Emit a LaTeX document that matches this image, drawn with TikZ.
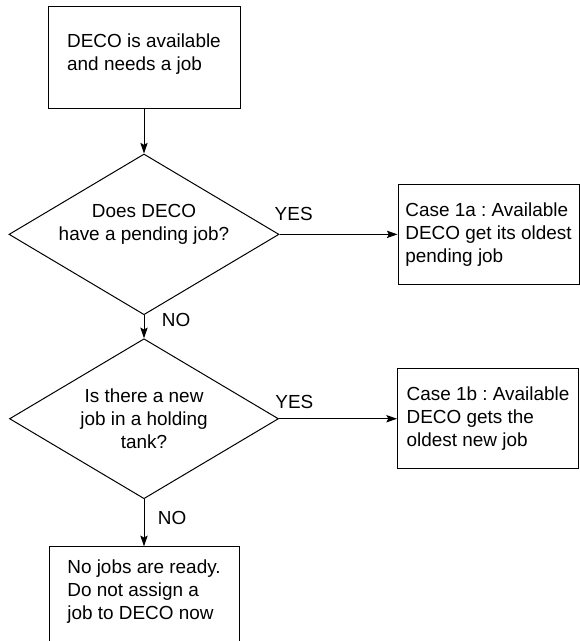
\documentclass[tikz,border=0pt]{standalone}
\usepackage{fontspec}
\setmainfont{Liberation Sans}
\frenchspacing
\usetikzlibrary{positioning}
\usetikzlibrary{shapes.geometric}
\usetikzlibrary{arrows.meta}

\begin{document}
\begin{tikzpicture}[
		font=\fontsize{14.2}{17.25}\selectfont,
		line width=0.75pt,
		box/.style={draw, rectangle, align=left, inner sep=0pt},
		decision/.style={draw, diamond, align=center, inner sep=0pt, shape aspect=1.68, minimum width=201.75pt, minimum height=120pt},
		flow/.style={-{Stealth[length=8pt, width=5.5pt, inset=1.5pt]}},
		answer/.style={inner sep=0pt}
	]
			\useasboundingbox (0,0) rectangle (434.25pt,-480.75pt);

			\node[box, minimum width=144pt, minimum height=76.5pt, text depth=8.5pt] (start) at (108pt,-43.5pt) {DECO is available\\and needs a job};
			\node[decision, below=33pt of start] (pending) {Does DECO\\have a pending job?\\\mbox{}};
			\node[decision, below=17.25pt of pending] (holding) {Is there a new\\job in a holding\\tank?};
			\node[box, minimum width=135.75pt, minimum height=75pt, right=88.5pt of pending] (case1a) {Case 1a : Available\\DECO get its oldest\\pending job};
			\node[box, minimum width=135.75pt, minimum height=75pt, right=88.5pt of holding] (case1b) {Case 1b : Available\\DECO gets the\\oldest new job};
			\node[box, minimum width=142.5pt, minimum height=76.5pt, text depth=12pt, below=35.25pt of holding] (idle) {No jobs are ready.\\Do not assign a\\job to DECO now};

			\draw[flow] (start) -- (pending);
			\draw[flow] (pending) -- node[answer, pos=0.12, above=10pt] (yes1) {YES} (case1a);
			\draw[flow] (pending) -- node[answer, pos=0.22, right=13pt] (no1) {NO} (holding);
			\draw[flow] (holding) -- node[answer, pos=0.13, above=7.5pt] (yes2) {YES} (case1b);
			\draw[flow] (holding) -- node[answer, pos=0.4, right=10pt] (no2) {NO} (idle);
		\end{tikzpicture}
\end{document}
